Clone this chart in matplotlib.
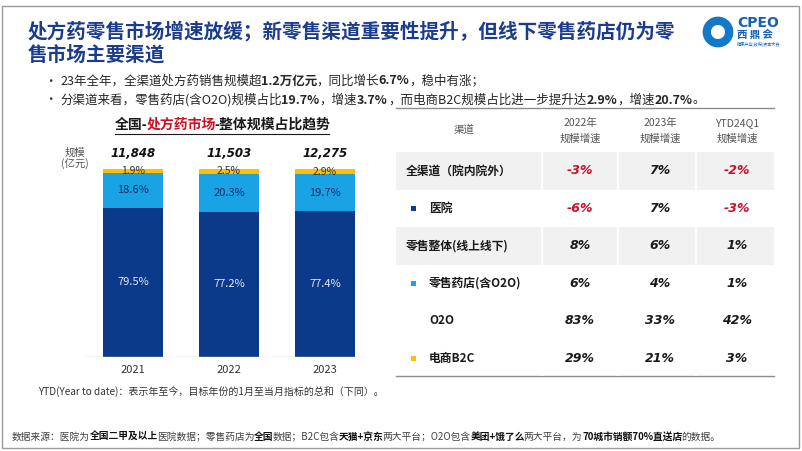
import matplotlib
matplotlib.use("Agg")
import matplotlib.pyplot as plt
from matplotlib.patches import Rectangle, Circle
from matplotlib.lines import Line2D

plt.rcParams['font.family'] = ['Noto Sans CJK SC', 'DejaVu Sans']
CJK = ['Noto Sans CJK SC', 'DejaVu Sans']

# ---------------- data ----------------
years = ['2021', '2022', '2023']
totals = ['11,848', '11,503', '12,275']
hospital = [79.5, 77.2, 77.4]
retail = [18.6, 20.3, 19.7]
b2c = [1.9, 2.5, 2.9]

channels = ['全渠道（院内院外）', '医院', '零售整体(线上线下)', '零售药店(含O2O)', 'O2O', '电商B2C']
growth_2022 = [-3, -6, 8, 6, 83, 29]
growth_2023 = [7, 7, 6, 4, 33, 21]
growth_ytd = [-2, -3, 1, 1, 42, 3]
col_headers = [('2022年', '规模增速'), ('2023年', '规模增速'), ('YTD24Q1', '规模增速')]

NAVY = '#0B3A8A'
LBLUE = '#1AA3E4'
YELLOW = '#FFC000'
TITLE = '#1B3C8C'
RED = '#C8102E'

W, H = 802, 451
fig = plt.figure(figsize=(W / 100, H / 100), dpi=100)
fig.patch.set_facecolor('white')


def fx(x):
    return x / W


def fy(y):
    return 1 - y / H


def ftext(x, y, s, **kw):
    return fig.text(fx(x), fy(y), s, **kw)


fig.canvas.draw()
R = fig.canvas.get_renderer()


def has_cjk(s):
    return any(ord(ch) > 0x2E80 for ch in s)


def seg_width(s, w, size):
    big = fig.text(0, 0, s, fontsize=size * 10, fontweight=w, family=CJK)
    wd = big.get_window_extent(renderer=R).width / 10
    big.remove()
    if w == 'bold' and has_cjk(s):
        wd -= 0.15 * size
    return wd


def rich(x, y, segs, size, ha='left', va='center'):
    widths = [seg_width(s, w, size) for s, w, c in segs]
    total = sum(widths)
    x0 = x - total / 2 if ha == 'center' else x
    start = x0
    for (s, w, c), wd in zip(segs, widths):
        fig.text(fx(x0), fy(y), s, fontsize=size, fontweight=w, color=c,
                 family=CJK, va=va, ha='left')
        x0 += wd
    return start, start + total


# frame
fig.add_artist(Rectangle((fx(2), fy(448)), 797 / W, 442 / H, transform=fig.transFigure,
                         fill=False, edgecolor='#9A9A9A', lw=1.0))

# title
ftext(28, 31, '处方药零售市场增速放缓；新零售渠道重要性提升，但线下零售药店仍为零',
      fontsize=14.1, fontweight='bold', color=TITLE, va='center')
ftext(28, 55, '售市场主要渠道', fontsize=14.1, fontweight='bold', color=TITLE, va='center')

# logo
logo_ax = fig.add_axes([fx(702), fy(48), 32 / W, 32 / H])
logo_ax.set_xlim(-1, 1); logo_ax.set_ylim(-1, 1); logo_ax.axis('off')
logo_ax.add_patch(Circle((0, 0), 0.7, fill=False, edgecolor='#1478C8', lw=6))
ftext(737, 23, 'CPEO', fontsize=10, fontweight='bold', color='#1560B0', va='center',
      family=['DejaVu Sans'])
ftext(737, 35, '西 鼎 会', fontsize=7.5, fontweight='bold', color='#1560B0', va='center')
ftext(737, 44, '健康产业|政府|资本大会', fontsize=3, color='#1560B0', va='center')

# bullets
ftext(44, 81, '•', fontsize=9, color='#333333', va='center')
ftext(44, 100, '•', fontsize=9, color='#333333', va='center')
K = '#262626'
rich(60, 81, [('23年全年，全渠道处方药销售规模超', 'normal', K), ('1.2万亿元', 'bold', K),
              ('，同比增长', 'normal', K), ('6.7%', 'bold', K), ('，稳中有涨；', 'normal', K)], 9)
rich(60, 100, [('分渠道来看，零售药店(含O2O)规模占比', 'normal', K), ('19.7%', 'bold', K),
               ('，增速', 'normal', K), ('3.7%', 'bold', K),
               ('，而电商B2C规模占比进一步提升达', 'normal', K), ('2.9%', 'bold', K),
               ('，增速', 'normal', K), ('20.7%', 'bold', K), ('。', 'normal', K)], 9)

# ---------------- bar chart ----------------
s, e = rich(222, 125, [('全国-', 'bold', '#1A1A1A'), ('处方药市场', 'bold', '#D0101E'),
                       ('-整体规模占比趋势', 'bold', '#1A1A1A')], 10, ha='center')
fig.add_artist(Line2D([fx(s), fx(e)], [fy(134), fy(134)], color='#1A1A1A', lw=0.8))

ax = fig.add_axes([fx(85), fy(357), (370 - 85) / W, 188 / H])
ax.set_xlim(-0.5, 2.469)
ax.set_ylim(0, 100)
ax.axis('off')
xs = list(range(len(years)))
bw = 0.625
ax.bar(xs, hospital, width=bw, color=NAVY)
ax.bar(xs, retail, width=bw, bottom=hospital, color=LBLUE)
bot2 = [a + b for a, b in zip(hospital, retail)]
ax.bar(xs, b2c, width=bw, bottom=bot2, color=YELLOW)
ax.axhline(0, color='#D9D9D9', lw=1)
for i in xs:
    ax.text(i, hospital[i] / 2, f'{hospital[i]:.1f}%', ha='center', va='center',
            fontsize=8, color='#DDE8FF')
    ax.text(i, hospital[i] + retail[i] / 2, f'{retail[i]:.1f}%', ha='center', va='center',
            fontsize=8, color='#0B2A6A')
    ax.text(i, bot2[i] + b2c[i] / 2, f'{b2c[i]:.1f}%', ha='center', va='center',
            fontsize=7.5, color='#333333')
    ax.text(i, 108.5, totals[i], ha='center', va='center', fontsize=8.5,
            fontweight='bold', style='italic', family=['DejaVu Sans'], color='#111111',
            clip_on=False)
    ax.text(i, -7, years[i], ha='center', va='center', fontsize=8, color='#333333',
            clip_on=False)

ftext(75, 153, '规模', fontsize=7.5, color='#555555', ha='center', va='center')
ftext(75, 164, '(亿元)', fontsize=7.5, color='#555555', ha='center', va='center')

ftext(38, 392, 'YTD(Year to date)：表示年至今，目标年份的1月至当月指标的总和（下同）。',
      fontsize=7.2, color='#333333', va='center')

# source line
G = '#404040'
rich(12, 437, [('数据来源：医院为', 'normal', G), ('全国二甲及以上', 'bold', '#111111'),
               ('医院数据；零售药店为', 'normal', G), ('全国', 'bold', '#111111'),
               ('数据；B2C包含', 'normal', G), ('天猫+京东', 'bold', '#111111'),
               ('两大平台；O2O包含', 'normal', G), ('美团+饿了么', 'bold', '#111111'),
               ('两大平台，为', 'normal', G), ('70城市销额70%直送店', 'bold', '#111111'),
               ('的数据。', 'normal', G)], 7)

# ---------------- table ----------------
tx0, tx1 = 396, 774
top = 152
rh = 37.5
fig.add_artist(Line2D([fx(tx0), fx(tx1)], [fy(108), fy(108)], color='#8C8C8C', lw=1.0))
fig.add_artist(Line2D([fx(tx0), fx(tx1)], [fy(375.5), fy(375.5)], color='#8C8C8C', lw=1.0))
for r in (0, 2):
    y0 = top + r * rh
    fig.add_artist(Rectangle((fx(tx0), fy(y0 + rh)), (tx1 - tx0) / W, rh / H,
                             transform=fig.transFigure, facecolor='#F1F1F1',
                             edgecolor='none'))
for xsep in (542, 618, 696):
    fig.add_artist(Line2D([fx(xsep), fx(xsep)], [fy(110), fy(375)], color='white', lw=1.2))

ftext(464, 130, '渠道', fontsize=7.5, color='#555555', ha='center', va='center')
col_x = [580, 660, 737]
for cx, (h1, h2) in zip(col_x, col_headers):
    ftext(cx, 123, h1, fontsize=7.5, color='#555555', ha='center', va='center')
    ftext(cx, 139, h2, fontsize=7.5, color='#555555', ha='center', va='center')

marker_colors = [None, NAVY, None, LBLUE, None, YELLOW]
indent = [False, True, False, True, True, True]
for r, name in enumerate(channels):
    yc = top + r * rh + rh / 2
    xl = 429 if indent[r] else 406
    ftext(xl, yc, name, fontsize=8.5, fontweight='bold', color='#1A1A1A', va='center')
    if marker_colors[r]:
        fig.add_artist(Rectangle((fx(410.5), fy(yc + 2.5)), 5 / W, 5 / H,
                                 transform=fig.transFigure, facecolor=marker_colors[r],
                                 edgecolor='none'))
    for cx, vals in zip(col_x, (growth_2022, growth_2023, growth_ytd)):
        v = vals[r]
        ftext(cx, yc, f'{v}%', fontsize=9, fontweight='bold', style='italic',
              family=['DejaVu Sans'], color=RED if v < 0 else '#1A1A1A',
              ha='center', va='center')

fig.savefig('out.png', dpi=100)
